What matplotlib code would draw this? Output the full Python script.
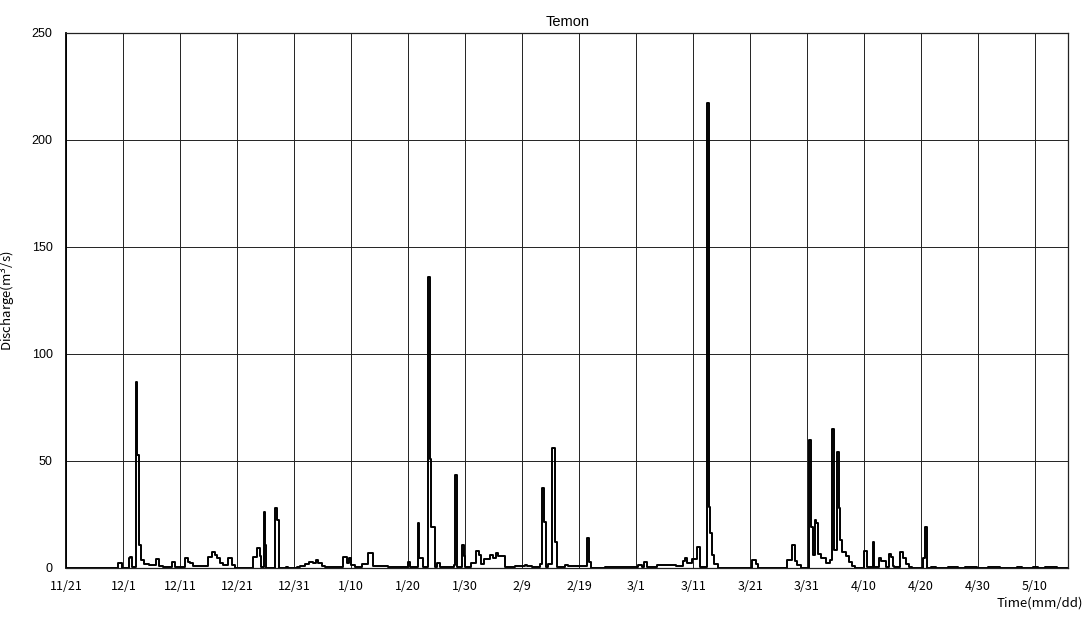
"""
Temon discharge hydrograph, 11/21 - mid May.
Step series of discharge (m3/s) against days since 11/21.
"""

import matplotlib
matplotlib.use("Agg")
import matplotlib.pyplot as plt

# ── data ──────────────────────────────────────────────────────────────────────
# breakpoints of the step series: day offset from 11/21, discharge from there on
q_day = [
    0.0, 9.1, 9.7, 10.9, 11.1, 11.5, 12.2, 12.45, 12.75, 13.1, 13.6, 14.4,
    15.8, 16.3, 16.9, 18.6, 19.0, 20.8, 21.3, 21.7, 22.2, 24.9, 25.5, 26.0,
    26.5, 27.0, 27.5, 28.3, 29.0, 29.6,
    32.7, 33.5, 33.9, 34.2, 34.65, 34.9, 35.1, 36.6, 37.0, 37.3,
    38.5, 38.9, 40.5, 41.0, 41.8, 42.5, 43.3, 43.8, 44.2, 44.8, 45.4,
    48.6, 49.2, 49.6, 50.0, 50.6, 51.8, 52.9, 53.8, 55.8, 56.5, 59.9, 60.3,
    61.7, 61.95, 62.6, 63.4, 63.75, 63.9, 64.7, 65.0, 65.6,
    68.0, 68.2, 68.5, 69.5, 69.75, 69.95, 71.0, 71.9, 72.4, 72.8, 73.3, 74.3,
    74.9, 75.4, 75.8, 77.0, 78.7, 80.4, 80.9, 81.8, 83.1, 83.45, 83.8, 84.1,
    84.6, 85.3, 85.75, 86.15, 87.5, 88.0, 91.4, 91.7, 92.1,
    94.5, 100.3, 101.0, 101.4, 101.9, 103.6, 107.0, 108.3, 108.6, 108.9,
    109.8, 110.6, 111.2, 112.5, 112.8, 113.0, 113.3, 113.7, 114.3,
    120.4, 121.1, 121.3,
    126.4, 127.3, 127.8, 128.3, 129.0,
    130.3, 130.75, 131.1, 131.35, 131.6, 131.85, 132.4, 133.4, 134.0, 134.3,
    134.65, 135.2, 135.55, 135.8, 136.1, 136.9, 137.4, 137.9, 138.5,
    140.0, 140.5, 141.5, 141.8, 142.6, 143.0, 143.8, 144.4, 144.7, 145.0,
    145.3, 146.4, 146.8, 147.3, 147.9, 148.4,
    150.4, 150.7, 151.0, 151.8, 152.7, 154.7, 156.5, 157.7, 159.8, 161.8,
    163.9, 166.8, 167.7, 169.7, 170.6, 171.8, 173.8, 175.8,
]
q_val = [
    0.0, 2.2, 0.0, 4.5, 5.0, 0.3, 87.0, 53.0, 10.7, 3.7, 2.0, 1.5,
    4.1, 1.0, 0.3, 2.9, 0.3, 4.5, 3.0, 2.2, 1.0, 5.3, 7.3, 6.2,
    4.7, 2.5, 1.2, 4.7, 1.5, 0.0,
    5.3, 9.3, 5.5, 0.5, 26.3, 10.7, 0.0, 27.8, 22.4, 0.0,
    0.6, 0.0, 0.5, 1.0, 2.0, 2.9, 2.5, 3.7, 2.2, 1.0, 0.5,
    5.0, 2.2, 4.8, 1.4, 0.6, 1.7, 7.1, 1.1, 1.0, 0.6, 3.0, 0.3,
    21.0, 4.7, 0.3, 136.0, 51.0, 19.3, 0.3, 2.5, 0.3,
    1.5, 43.4, 0.3, 10.7, 5.6, 0.5, 2.3, 8.1, 6.0, 2.0, 4.0, 6.0,
    4.8, 7.0, 5.6, 0.5, 0.8, 1.4, 1.0, 0.5, 2.0, 37.6, 21.6, 0.5,
    2.0, 56.0, 12.0, 0.5, 1.3, 1.0, 14.2, 3.0, 0.2,
    0.6, 1.3, 0.5, 3.0, 0.6, 1.3, 1.0, 3.3, 4.8, 2.5,
    4.0, 9.6, 0.3, 217.0, 28.6, 16.2, 5.9, 2.0, 0.0,
    3.8, 1.8, 0.0,
    3.7, 10.7, 3.5, 1.3, 0.0,
    60.0, 19.3, 6.0, 22.4, 20.8, 6.5, 4.5, 2.5, 3.7, 65.0,
    8.4, 54.0, 27.8, 13.0, 7.5, 5.6, 3.0, 1.0, 0.0,
    8.1, 0.3, 12.0, 0.6, 4.5, 3.1, 0.6, 6.5, 5.0, 1.0,
    0.3, 7.6, 4.5, 2.0, 0.5, 0.0,
    4.5, 19.3, 0.0, 0.5, 0.0, 0.6, 0.0, 0.6, 0.0, 0.6,
    0.0, 0.5, 0.0, 0.6, 0.0, 0.6, 0.0, 0.0,
]

tick_days = list(range(0, 171, 10))
tick_labels = ["11/21", "12/1", "12/11", "12/21", "12/31", "1/10", "1/20",
               "1/30", "2/9", "2/19", "3/1", "3/11", "3/21", "3/31", "4/10",
               "4/20", "4/30", "5/10"]
y_ticks = [0, 50, 100, 150, 200, 250]

JP = ["Noto Sans CJK JP", "DejaVu Sans"]

# ── plot ──────────────────────────────────────────────────────────────────────
fig = plt.figure(figsize=(10.9, 6.19), dpi=100)
ax = fig.add_axes([0.061, 0.0824, 0.9188, 0.8646])

ax.plot(q_day, q_val, drawstyle="steps-post", color="black", linewidth=1.4)

ax.set_xlim(0, 175.8)
ax.set_ylim(0, 250)
ax.set_xticks(tick_days)
ax.set_xticklabels(tick_labels, family=JP, fontsize=9)
ax.set_yticks(y_ticks)
ax.set_yticklabels([str(v) for v in y_ticks], family="Liberation Sans",
                   fontsize=9)
ax.tick_params(axis="x", length=0, pad=9)
ax.tick_params(axis="y", length=0, pad=10)
ax.grid(True, color="#222222", linewidth=0.7)
ax.set_axisbelow(True)
for side in ax.spines.values():
    side.set_color("#222222")
    side.set_linewidth(0.9)
ax.spines["left"].set_color("black")
ax.spines["left"].set_linewidth(1.3)

ax.set_title("Temon", family="Liberation Sans", fontsize=10.5, pad=5)
ax.set_ylabel("Discharge(m$^3$/s)", family=JP, fontsize=9.5)
ax.yaxis.set_label_coords(-0.048, 0.5)
ax.set_xlabel("Time(mm/dd)", family=JP, fontsize=9.5, ha="right", va="center")
ax.xaxis.set_label_coords(1.015, -0.065)

fig.savefig("out.png", dpi=100)
plt.close(fig)
